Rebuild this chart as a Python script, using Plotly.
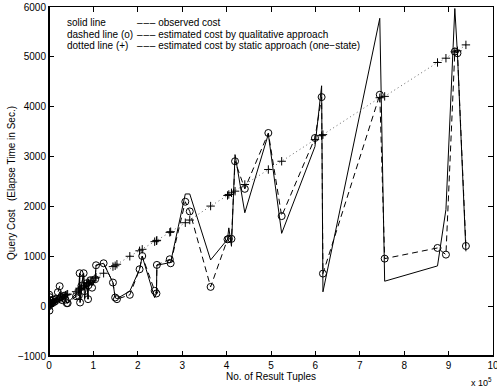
import plotly.graph_objects as go

# x: No. of result tuples (x 10^5)
x_vals = [0.00, 0.005, 0.01, 0.015, 0.02, 0.03, 0.05, 0.07, 0.10, 0.13, 0.16, 0.20, 0.24, 0.27, 0.30, 0.34, 0.37, 0.40, 0.42,
          0.61, 0.67, 0.69, 0.70, 0.73, 0.78, 0.80, 0.85, 0.88, 0.89, 0.93, 0.97, 1.04, 1.06, 1.23, 1.44, 1.49, 1.53,
          1.82, 2.04, 2.10, 2.38, 2.42, 2.43, 2.72, 2.74, 3.07, 3.17, 3.64, 4.02, 4.05, 4.11, 4.19, 4.41, 4.94, 5.24,
          5.99, 6.14, 6.17, 7.45, 7.56, 8.75, 8.94, 9.14, 9.20, 9.39]

observed = [100, 250, -50, 200, 30, 150, 80, 120, 60, 150, 100, 180, 280, 180, 200, 250, 120, 80, 60,
            250, 210, 660, 70, 400, 660, 150, 450, 140, 420, 500, 420, 540, 820, 860, 473, 173, 150,
            300, 740, 1000, 170, 250, 820, 873, 880, 2250, 2250, 926, 1340, 1570, 1200, 3040, 1873, 3450, 1460,
            3200, 4420, 287, 5773, 500, 807, 1940, 5970, 5050, 1100]

qualitative = [0, 230, -90, 180, 60, 120, 100, 60, 130, 90, 150, 280, 400, 180, 120, 210, 130, 60, 60,
               200, 207, 660, 73, 407, 660, 300, 460, 140, 420, 520, 370, 540, 820, 860, 473, 173, 140,
               227, 740, 1006, 307, 254, 827, 940, 860, 2094, 1900, 386, 1340, 1350, 1350, 2906, 2353, 3473, 1806,
               3373, 4193, 653, 4240, 953, 1167, 1033, 5107, 5073, 1207]

static = [0, 10, 15, 20, 25, 30, 45, 55, 70, 85, 105, 130, 145, 160, 180, 200, 220, 230, 240,
          290, 320, 340, 350, 370, 400, 410, 440, 460, 470, 500, 520, 560, 580, 660, 793, 810, 840,
          1000, 1110, 1140, 1293, 1310, 1320, 1480, 1493, 1673, 1727, 2007, 2220, 2240, 2273, 2306, 2440, 2740, 2906,
          3340, 3420, 3440, 4180, 4207, 4887, 4973, 5100, 5120, 5240]

x_ticks = list(range(0, 11))
y_ticks = [-1000, 0, 1000, 2000, 3000, 4000, 5000, 6000]
y_tick_text = ["\u22121000", "0", "1000", "2000", "3000", "4000", "5000", "6000"]

DASHES = "\u2013\u200a\u2013\u200a\u2013"
legend_left = ["solid line", "dashed line (o)", "dotted line (+)"]
legend_right = [DASHES + " observed cost",
                DASHES + " estimated cost by qualitative approach",
                DASHES + " estimated cost by static approach (one\u2212state)"]
legend_y = [5680, 5452, 5232]

FONT = "Liberation Sans, Arial, Helvetica, sans-serif"

fig = go.Figure()
fig.add_trace(go.Scatter(x=x_vals, y=observed, mode="lines",
                         line=dict(color="black", width=1), showlegend=False))
fig.add_trace(go.Scatter(x=x_vals, y=qualitative, mode="lines+markers",
                         line=dict(color="black", width=1, dash="6px,4px"),
                         marker=dict(symbol="circle-open", size=7, color="black", line=dict(width=1)),
                         showlegend=False))
fig.add_trace(go.Scatter(x=x_vals, y=static, mode="lines+markers",
                         line=dict(color="#666666", width=1, dash="1px,3px"),
                         marker=dict(symbol="cross-thin-open", size=6, color="black", line=dict(width=1, color="black")),
                         showlegend=False))

for txt, yy in zip(legend_left, legend_y):
    fig.add_annotation(x=0.35, y=yy, xref="x", yref="y", text=txt, showarrow=False,
                       xanchor="left", yanchor="middle", font=dict(size=10, color="black", family=FONT))
for txt, yy in zip(legend_right, legend_y):
    fig.add_annotation(x=1.93, y=yy, xref="x", yref="y", text=txt, showarrow=False,
                       xanchor="left", yanchor="middle", font=dict(size=10, color="black", family=FONT))

# axis titles and exponent label
fig.add_annotation(x=0.5, y=-0.059, xref="paper", yref="paper", text="No. of Result Tuples", showarrow=False,
                   xanchor="center", yanchor="middle", font=dict(size=10, color="black", family=FONT))
fig.add_annotation(x=-0.084, y=0.495, xref="paper", yref="paper",
                   text="Query Cost\u00a0\u00a0\u00a0(Elapse Time in Sec.)", textangle=-90, showarrow=False,
                   xanchor="center", yanchor="middle", font=dict(size=10, color="black", family=FONT))
fig.add_annotation(x=0.973, y=-0.074, xref="paper", yref="paper", text="x 10<sup>5</sup>", showarrow=False,
                   xanchor="center", yanchor="middle", font=dict(size=9, color="black", family=FONT))

# heavier left/bottom frame lines
fig.add_shape(type="line", xref="paper", yref="paper", x0=0, x1=1, y0=0, y1=0, line=dict(color="black", width=2))
fig.add_shape(type="line", xref="paper", yref="paper", x0=0, x1=0, y0=0, y1=1, line=dict(color="black", width=2))

fig.update_xaxes(range=[0, 10], tickvals=x_ticks, ticks="inside", ticklen=5, tickcolor="black",
                 showline=True, linecolor="black", linewidth=1, mirror="allticks", showgrid=False, zeroline=False,
                 automargin=False, ticklabeloverflow="allow",
                 tickfont=dict(size=10, color="black", family=FONT))
fig.update_yaxes(range=[-1000, 6000], tickvals=y_ticks, ticktext=y_tick_text, ticks="inside", ticklen=5,
                 tickcolor="black", showline=True, linecolor="black", linewidth=1, mirror="allticks",
                 showgrid=False, zeroline=False, automargin=False, ticklabeloverflow="allow",
                 tickfont=dict(size=10, color="black", family=FONT))

fig.update_layout(width=497, height=390, margin=dict(l=49, r=4, t=7, b=34),
                  paper_bgcolor="white", plot_bgcolor="white", showlegend=False)

# remove the browser's default body margin so the figure sits at the window's top-left corner
fig.write_html("out.html", config={"displayModeBar": False},
               post_script="document.body.style.margin='0';")
